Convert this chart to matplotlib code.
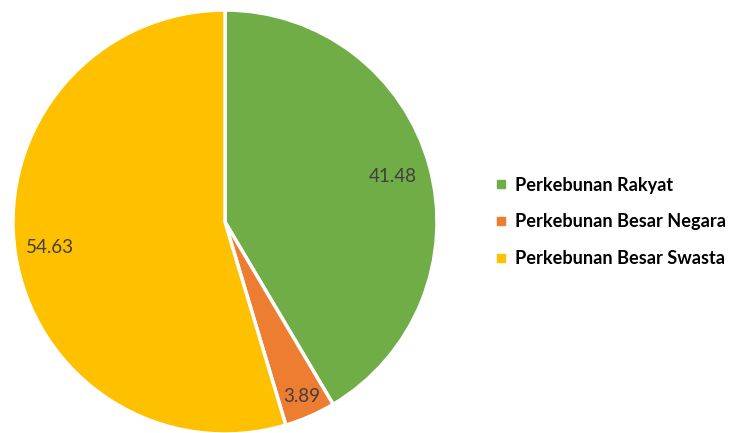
import matplotlib
matplotlib.use("Agg")
import matplotlib.pyplot as plt
from matplotlib.lines import Line2D
import numpy as np

categories = ["Perkebunan Rakyat", "Perkebunan Besar Negara", "Perkebunan Besar Swasta"]
values = [41.48, 3.89, 54.63]
colors = ["#70AD47", "#ED7D31", "#FFC000"]
label_radii = [0.82, 0.90, 0.835]

plt.rcParams['font.family'] = ['Lato', 'DejaVu Sans']

fig = plt.figure(figsize=(7.29, 4.33), dpi=100)
W, H = 729, 433
cx, cy, r = 225, 222, 212
ax = fig.add_axes([(cx - r) / W, (H - cy - r) / H, 2 * r / W, 2 * r / H])
wedges, _ = ax.pie(values, colors=colors, startangle=90, counterclock=False,
                   radius=1, wedgeprops=dict(edgecolor="white", linewidth=2.5))
ax.set_xlim(-1.0, 1.0)
ax.set_ylim(-1.0, 1.0)
ax.set_aspect("equal")
ax.axis("off")

for w, v, lr in zip(wedges, values, label_radii):
    ang = np.deg2rad((w.theta1 + w.theta2) / 2)
    ax.text(lr * np.cos(ang), lr * np.sin(ang), f"{v:.2f}", ha="center", va="center",
            fontsize=13.5, color="#404040")

handles = [Line2D([0], [0], marker="s", linestyle="none", markersize=6,
                  markerfacecolor=c, markeredgecolor=c) for c in colors]
leg = fig.legend(handles, categories, loc="center left", bbox_to_anchor=(476 / W, 1 - 222 / H),
                 frameon=False, handletextpad=0.25, labelspacing=1.08,
                 prop=dict(weight="bold", size=13.1), handlelength=1.0)
for t in leg.get_texts():
    t.set_color("#000000")

fig.savefig("out.png", dpi=100)
